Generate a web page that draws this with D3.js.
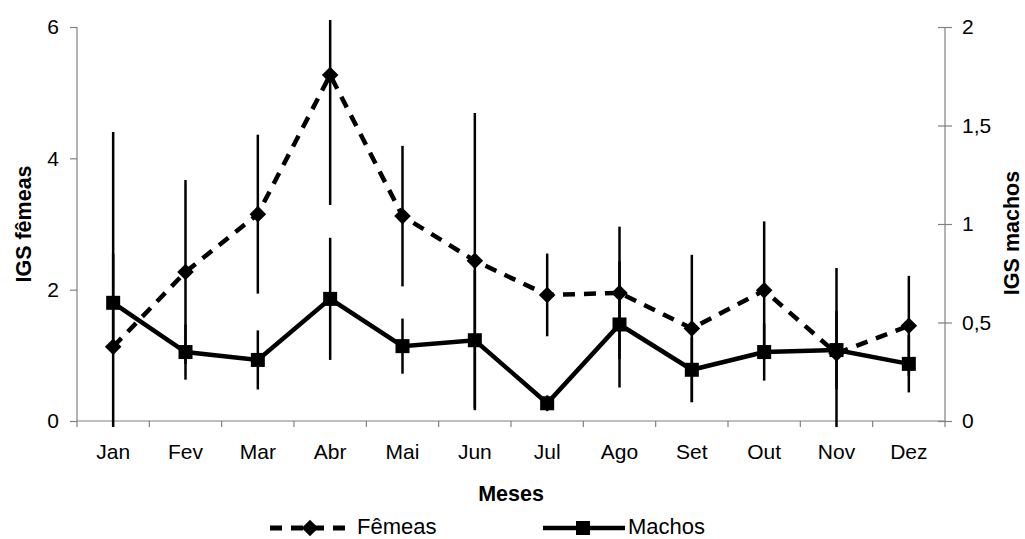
<!DOCTYPE html>
<html>
<head>
<meta charset="utf-8">
<script src="https://cdn.jsdelivr.net/npm/d3@7"></script>
<style>
  html, body { margin: 0; padding: 0; background: #fff; }
  svg { display: block; font-family: "Liberation Sans", Arial, sans-serif; }
</style>
</head>
<body>
<svg id="chart" width="1025" height="539"></svg>
<script>
// Monthly gonadosomatic index (IGS), mean ± standard deviation
const meses = ["Jan", "Fev", "Mar", "Abr", "Mai", "Jun", "Jul", "Ago", "Set", "Out", "Nov", "Dez"];
const femeas   = [1.13, 2.27, 3.15, 5.27, 3.12, 2.44, 1.92, 1.95, 1.41, 1.99, 1.03, 1.45];
const femeasDP = [3.27, 1.40, 1.21, 1.98, 1.07, 2.25, 0.63, 1.01, 1.12, 1.05, 1.30, 0.76];
const machos   = [0.60, 0.35, 0.31, 0.62, 0.38, 0.41, 0.09, 0.49, 0.26, 0.35, 0.36, 0.29];
const machosDP = [0.25, 0.14, 0.15, 0.31, 0.14, 0.355, 0.04, 0.32, 0.165, 0.145, 0.20, 0.145];
const ticksEsq = [0, 2, 4, 6];
const ticksDir = [0, 0.5, 1, 1.5, 2];

const svg = d3.select("#chart");
const plotLeft = 77, plotRight = 945, plotTop = 27, plotBottom = 421;
const axisColor = "#808080";
const fmtDir = v => String(v).replace(".", ",");

const x = d3.scaleBand().domain(meses).range([plotLeft, plotRight]).padding(0);
const yF = d3.scaleLinear().domain([0, 6]).range([plotBottom, plotTop]);
const yM = d3.scaleLinear().domain([0, 2]).range([plotBottom, plotTop]);
const cx = m => x(m) + x.bandwidth() / 2;

svg.append("defs").append("clipPath").attr("id", "plot")
  .append("rect").attr("x", plotLeft - 10).attr("y", 20)
  .attr("width", plotRight - plotLeft + 20).attr("height", 407);

// Axes
const gx = svg.append("g").attr("transform", `translate(0,${plotBottom})`)
  .call(d3.axisBottom(x).tickSize(0).tickPadding(23));
gx.select(".domain").remove();
gx.selectAll("text").attr("font-size", 21).attr("fill", "#000");

// category boundary ticks on the x axis
svg.append("g").selectAll("line")
  .data(d3.range(meses.length + 1))
  .join("line")
  .attr("x1", i => plotLeft + i * x.bandwidth()).attr("x2", i => plotLeft + i * x.bandwidth())
  .attr("y1", plotBottom).attr("y2", plotBottom + 6)
  .attr("stroke", axisColor).attr("stroke-width", 1.2);
svg.append("line").attr("x1", plotLeft).attr("x2", plotRight).attr("y1", plotBottom).attr("y2", plotBottom)
  .attr("stroke", axisColor).attr("stroke-width", 1.2);

const gl = svg.append("g").attr("transform", `translate(${plotLeft},0)`)
  .call(d3.axisLeft(yF).tickValues(ticksEsq).tickSize(7).tickPadding(11).tickFormat(d3.format("d")));
gl.select(".domain").attr("stroke", axisColor).attr("stroke-width", 1.2).attr("d", `M0,${plotTop}V${plotBottom}`);
gl.selectAll(".tick line").attr("stroke", axisColor).attr("stroke-width", 1.2);
gl.selectAll("text").attr("font-size", 21).attr("fill", "#000");

const gr = svg.append("g").attr("transform", `translate(${plotRight},0)`)
  .call(d3.axisRight(yM).tickValues(ticksDir).tickSize(7).tickPadding(10).tickFormat(fmtDir));
gr.select(".domain").attr("stroke", axisColor).attr("stroke-width", 1.2).attr("d", `M0,${plotTop}V${plotBottom}`);
gr.selectAll(".tick line").attr("stroke", axisColor).attr("stroke-width", 1.2).attr("x1", -7);
gr.selectAll("text").attr("font-size", 21).attr("fill", "#000");

// Axis titles
svg.append("text").attr("transform", `translate(31,224) rotate(-90)`)
  .attr("text-anchor", "middle").attr("font-size", 21.5).attr("font-weight", "bold").text("IGS fêmeas");
svg.append("text").attr("transform", `translate(1019,233) rotate(-90)`)
  .attr("text-anchor", "middle").attr("font-size", 21.5).attr("font-weight", "bold").text("IGS machos");
svg.append("text").attr("x", 511).attr("y", 501)
  .attr("text-anchor", "middle").attr("font-size", 21.5).attr("font-weight", "bold").text("Meses");

const plot = svg.append("g").attr("clip-path", "url(#plot)");

// Error bars (no caps)
const errF = meses.map((m, i) => ({ m, lo: femeas[i] - femeasDP[i], hi: femeas[i] + femeasDP[i] }));
const errM = meses.map((m, i) => ({ m, lo: machos[i] - machosDP[i], hi: machos[i] + machosDP[i] }));
plot.append("g").selectAll("line").data(errF).join("line")
  .attr("x1", d => cx(d.m)).attr("x2", d => cx(d.m))
  .attr("y1", d => yF(d.lo)).attr("y2", d => yF(d.hi))
  .attr("stroke", "#000").attr("stroke-width", 2.5);
plot.append("g").selectAll("line").data(errM).join("line")
  .attr("x1", d => cx(d.m)).attr("x2", d => cx(d.m))
  .attr("y1", d => yM(d.lo)).attr("y2", d => yM(d.hi))
  .attr("stroke", "#000").attr("stroke-width", 2.5);

// Females: dashed line with diamonds (left axis)
const lineF = d3.line().x((d, i) => cx(meses[i])).y(d => yF(d));
plot.append("path").datum(femeas).attr("d", lineF)
  .attr("fill", "none").attr("stroke", "#000").attr("stroke-width", 4.5)
  .attr("stroke-dasharray", "12,9");
const diamond = d3.symbol().type(d3.symbolDiamond2).size(175);
plot.append("g").selectAll("path").data(femeas).join("path")
  .attr("transform", (d, i) => `translate(${cx(meses[i])},${yF(d)})`)
  .attr("d", diamond).attr("fill", "#000");

// Males: solid line with squares (right axis)
const lineM = d3.line().x((d, i) => cx(meses[i])).y(d => yM(d));
plot.append("path").datum(machos).attr("d", lineM)
  .attr("fill", "none").attr("stroke", "#000").attr("stroke-width", 4.5);
plot.append("g").selectAll("rect").data(machos).join("rect")
  .attr("x", (d, i) => cx(meses[i]) - 7).attr("y", d => yM(d) - 7)
  .attr("width", 14).attr("height", 14).attr("fill", "#000");

// Legend
const leg = svg.append("g");
leg.append("line").attr("x1", 270).attr("x2", 345).attr("y1", 528).attr("y2", 528)
  .attr("stroke", "#000").attr("stroke-width", 5).attr("stroke-dasharray", "12,9");
leg.append("path").attr("transform", "translate(310,528)").attr("d", diamond).attr("fill", "#000");
leg.append("text").attr("x", 357).attr("y", 534).attr("font-size", 22).text("Fêmeas");
leg.append("line").attr("x1", 543).attr("x2", 625).attr("y1", 528).attr("y2", 528)
  .attr("stroke", "#000").attr("stroke-width", 4.5);
leg.append("rect").attr("x", 576).attr("y", 521).attr("width", 14).attr("height", 14).attr("fill", "#000");
leg.append("text").attr("x", 628).attr("y", 534).attr("font-size", 22).text("Machos");
</script>
</body>
</html>
